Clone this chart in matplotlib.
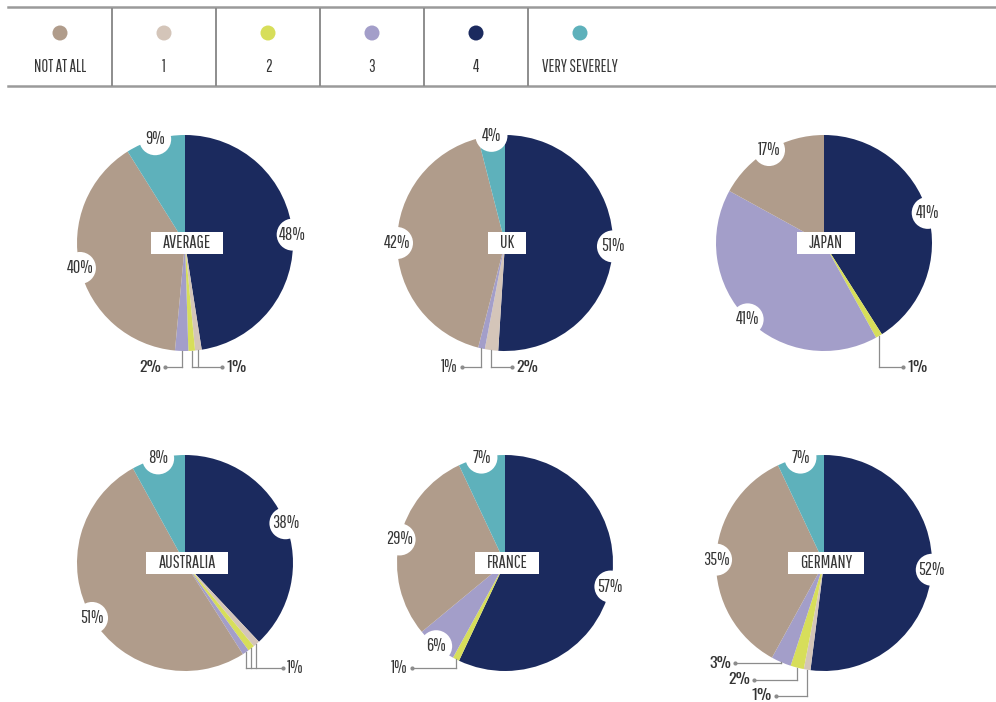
import numpy as np
import matplotlib
matplotlib.use('Agg')
import matplotlib.pyplot as plt
from matplotlib.patches import Circle, Rectangle

plt.rcParams['font.family'] = ['Pathway Gothic One', 'Oswald', 'DejaVu Sans']
BOLD = ['Oswald', 'DejaVu Sans']

# legend categories and colours
categories = ['NOT AT ALL', '1', '2', '3', '4', 'VERY SEVERELY']
colors = ['#b09c8b', '#d4c5b9', '#d7de5a', '#a39ec9', '#1b2a5e', '#5eb1bb']

# percentages, same order as categories
titles = ['AVERAGE', 'UK', 'JAPAN', 'AUSTRALIA', 'FRANCE', 'GERMANY']
average = [40, 1, 1, 2, 48, 9]
uk = [42, 2, 0, 1, 51, 4]
japan = [17, 0, 1, 41, 41, 0]
australia = [51, 1, 1, 1, 38, 8]
france = [29, 0, 1, 6, 57, 7]
germany = [35, 1, 2, 3, 52, 7]
all_values = [average, uk, japan, australia, france, germany]

# clockwise from 12 o'clock
slice_order = [4, 1, 2, 3, 0, 5]

W, H = 996, 702
R = 108
centers = [(185, 243), (505, 243), (824, 243), (185, 563), (505, 563), (824, 563)]
txt = '#363636'
line_c = '#8c8c8c'

# small slices get elbow callouts: (categories, label y, label x, side, bold)
callouts = {
    'AVERAGE': [([3], 367, 161, 'right', True), ([1, 2], 367, 226, 'left', True)],
    'UK': [([3], 367, 458, 'right', False), ([1], 367, 516, 'left', True)],
    'JAPAN': [([2], 367, 907, 'left', True)],
    'AUSTRALIA': [([1, 2, 3], 668, 287, 'left', False)],
    'FRANCE': [([2], 668, 408, 'right', False)],
    'GERMANY': [([3], 663, 731, 'right', True), ([2], 680, 750, 'right', True),
                ([1], 696, 772, 'right', True)],
}


def py(y):
    return H - y


fig = plt.figure(figsize=(W / 100, H / 100), dpi=100)
ax = fig.add_axes([0, 0, 1, 1])

for title, vals, (cx, cy) in zip(titles, all_values, centers):
    ordered = [vals[i] for i in slice_order]
    ax.pie(ordered, colors=[colors[i] for i in slice_order], startangle=90,
           counterclock=False, center=(cx, py(cy)), radius=R, frame=True,
           wedgeprops=dict(linewidth=0))

    # mid angle of every slice, clockwise from top
    total = float(sum(vals))
    mids = {}
    cum = 0
    for i in slice_order:
        mids[i] = np.deg2rad((cum + vals[i] / 2) / total * 360)
        cum += vals[i]

    def edge(i, rr=R):
        return cx + rr * np.sin(mids[i]), py(cy) + rr * np.cos(mids[i])

    # big slices: label in a white bite on the rim
    for i in slice_order:
        if vals[i] >= 4:
            ex, ey = edge(i)
            ax.add_patch(Circle((ex, ey), 16, fc='white', ec='none', zorder=3))
            ax.text(ex, ey, f'{vals[i]}%', ha='center', va='center', fontsize=13,
                    color=txt, zorder=4)

    # small slices: elbow lines
    for cats, ly, lx, side, bold in callouts[title]:
        pts = [edge(i) for i in cats]
        for x0, y0 in pts:
            ax.plot([x0, x0], [y0, py(ly)], color=line_c, lw=0.9, zorder=2)
        xs = [p[0] for p in pts]
        if side == 'right':
            x_end = lx + 4
            ax.plot([x_end, max(xs)], [py(ly), py(ly)], color=line_c, lw=0.9)
        else:
            x_end = lx - 4
            ax.plot([min(xs), x_end], [py(ly), py(ly)], color=line_c, lw=0.9)
        ax.plot(x_end, py(ly), 'o', ms=2, color=line_c)
        if bold:
            ax.text(lx, py(ly), f'{vals[cats[0]]}%', ha=side, va='center',
                    fontsize=11.5, color='#333333', family=BOLD)
        else:
            ax.text(lx, py(ly), f'{vals[cats[0]]}%', ha=side, va='center',
                    fontsize=13, color=txt)

    # title in white box
    t = ax.text(cx + 2, py(cy), title, ha='center', va='center', fontsize=13,
                color=txt, zorder=6)
    fig.canvas.draw()
    bb = t.get_window_extent(fig.canvas.get_renderer())
    bw = bb.width + 24
    ax.add_patch(Rectangle((cx + 2 - bw / 2, py(cy) - 11), bw, 22, fc='white',
                           ec='none', zorder=5))

# legend strip
ax.plot([8, W], [py(7), py(7)], color='#9a9a9a', lw=1.8)
ax.plot([8, W], [py(86), py(86)], color='#9a9a9a', lw=1.8)
col_w = 104
for k, (cat, col) in enumerate(zip(categories, colors)):
    xc = 8 + col_w / 2 + k * col_w
    ax.add_patch(Circle((xc, py(33)), 7.5, fc=col, ec='none'))
    ax.text(xc, py(67), cat, ha='center', va='center', fontsize=12, color=txt)
    if k < len(categories) - 1:
        ax.plot([8 + (k + 1) * col_w] * 2, [py(9), py(85)], color='#7a7a7a', lw=1.2)

ax.set_xlim(0, W)
ax.set_ylim(0, H)
ax.set_aspect('equal')
ax.axis('off')
fig.savefig('out.png', dpi=100, facecolor='white')
